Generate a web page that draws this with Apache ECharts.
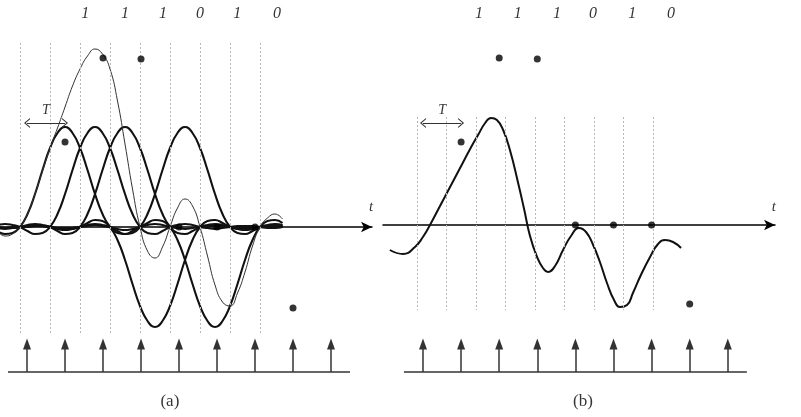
<!DOCTYPE html>
<html><head><meta charset="utf-8">
<script src="https://cdn.jsdelivr.net/npm/echarts/dist/echarts.min.js"></script>
<style>html,body{margin:0;padding:0;background:#fff}#c{width:801px;height:417px}</style>
</head><body><div id="c"></div>
<script>
// ---- panel (a): time grid (units of T, dashed lines at integers) ----
const tGrid = [-0.75,-0.5,-0.25,0,0.25,0.5,0.75,1,1.25,1.5,1.75,2,2.25,2.5,2.75,3,3.25,3.5,3.75,4,4.25,4.5,4.75,5,5.25,5.5,5.75,6,6.25,6.5,6.75,7,7.25,7.5,7.75,8,8.25,8.5,8.75];
const pulse1 = [-0.04,-0.07,-0.06,0,0.13,0.33,0.57,0.79,0.94,1,0.94,0.79,0.57,0.33,0.13,0,-0.06,-0.07,-0.04,0,0.02,0.03,0.02,0,-0.01,-0.02,-0.01,0,0.01,0.01,0.01,0,-0.01,-0.01,0,0,0,0.01,0];
const pulse2 = [0.02,0.03,0.02,0,-0.04,-0.07,-0.06,0,0.13,0.33,0.57,0.79,0.94,1,0.94,0.79,0.57,0.33,0.13,0,-0.06,-0.07,-0.04,0,0.02,0.03,0.02,0,-0.01,-0.02,-0.01,0,0.01,0.01,0.01,0,-0.01,-0.01,0];
const pulse3 = [-0.01,-0.02,-0.01,0,0.02,0.03,0.02,0,-0.04,-0.07,-0.06,0,0.13,0.33,0.57,0.79,0.94,1,0.94,0.79,0.57,0.33,0.13,0,-0.06,-0.07,-0.04,0,0.02,0.03,0.02,0,-0.01,-0.02,-0.01,0,0.01,0.01,0.01];
const pulse4 = [-0.01,-0.01,-0.01,0,0.01,0.02,0.01,0,-0.02,-0.03,-0.02,0,0.04,0.07,0.06,0,-0.13,-0.33,-0.57,-0.79,-0.94,-1,-0.94,-0.79,-0.57,-0.33,-0.13,0,0.06,0.07,0.04,0,-0.02,-0.03,-0.02,0,0.01,0.02,0.01];
const pulse5 = [0,-0.01,-0.01,0,0.01,0.01,0.01,0,-0.01,-0.02,-0.01,0,0.02,0.03,0.02,0,-0.04,-0.07,-0.06,0,0.13,0.33,0.57,0.79,0.94,1,0.94,0.79,0.57,0.33,0.13,0,-0.06,-0.07,-0.04,0,0.02,0.03,0.02];
const pulse6 = [0,-0.01,0,0,0,0.01,0.01,0,-0.01,-0.01,-0.01,0,0.01,0.02,0.01,0,-0.02,-0.03,-0.02,0,0.04,0.07,0.06,0,-0.13,-0.33,-0.57,-0.79,-0.94,-1,-0.94,-0.79,-0.57,-0.33,-0.13,0,0.06,0.07,0.04];
const sumA = [-0.04,-0.09,-0.07,0,0.13,0.33,0.56,0.79,0.99,1.2,1.41,1.58,1.71,1.78,1.73,1.58,1.26,0.83,0.38,0,-0.24,-0.31,-0.2,0,0.19,0.28,0.21,0,-0.29,-0.58,-0.75,-0.79,-0.66,-0.45,-0.19,0,0.09,0.13,0.08];

// ---- panel (b): received curve ----
const bT = [-0.92,-0.47,-0.07,0.2,0.44,0.78,1.12,1.46,1.8,2.07,2.31,2.51,2.71,2.92,3.15,3.42,3.63,3.83,4.07,4.27,4.44,4.68,4.95,5.22,5.49,5.73,5.97,6.2,6.44,6.68,6.88,7.12,7.32,7.59,7.9,8.17,8.41,8.68,8.95];
const bV = [-0.25,-0.29,-0.22,-0.12,0,0.19,0.38,0.57,0.76,0.9,1.02,1.07,1.05,0.95,0.75,0.43,0.16,-0.11,-0.32,-0.43,-0.47,-0.41,-0.25,-0.11,-0.03,-0.07,-0.2,-0.37,-0.58,-0.75,-0.82,-0.8,-0.68,-0.5,-0.32,-0.19,-0.15,-0.17,-0.23];

// ---- samples / labels (sample-index axis) ----
const bits = ['1','1','1','0','1','0'];
const bitPosA = [1.53,2.58,3.58,4.55,5.53,6.58];
const bitPosB = [1.47,2.49,3.52,4.46,5.49,6.51];
const sampleK = [0,1,2,3,4,5,6,7,8];
const dotK = [1,2,3,4,5,6,7];
const dotA = [0.85,1.69,1.68,0,0,0,-0.81];
const dotB = [0.83,1.67,1.66,0,0,0,-0.79];
const gridLinesT = [0,1,2,3,4,5,6,7,8];

const SERIF = 'Liberation Serif';
const CHEV = 'path://M0,8 L6,0 L12,8 L10.4,8 L6,2.2 L1.6,8 Z';

function panel(p) {
  const s = [];
  s.push({type:'line', xAxisIndex:p.xt, yAxisIndex:p.y, data:[], silent:true, z:1,
    markLine:{silent:true, animation:false, symbol:['none','none'], label:{show:false},
      lineStyle:{color:'#b8b8b8', width:1, type:[2,2]},
      data: gridLinesT.map(t => [{coord:[t, p.gTop]}, {coord:[t, p.gBot]}])}});
  p.curves.forEach(c => s.push({type:'line', xAxisIndex:p.xt, yAxisIndex:p.y,
    data: c.t.map((t,i)=>[t, c.v[i]]), smooth:c.sm, symbol:'none', silent:true, z:c.z||3,
    lineStyle:{width:c.w, color:c.color}}));
  s.push({type:'scatter', xAxisIndex:p.xs, yAxisIndex:p.y, symbolSize:7, silent:true, z:6,
    itemStyle:{color:'#000'},
    data: dotK.map((k,i)=>[k, p.dots[i]]),
    markLine:{silent:true, animation:false, symbol:['none','none'], label:{show:false},
      lineStyle:{color:'#333', width:1.5, type:'solid'},
      data: [
        ...sampleK.map(k => [{coord:[k, p.base]}, {coord:[k, p.head], symbol:'triangle', symbolSize:[8,11]}]),
        [{coord:[-0.5, p.base]}, {coord:[8.5, p.base]}],
        [{coord:[0, p.tArr], symbol:CHEV, symbolSize:[10,6], lineStyle:{width:1, color:'#333'}},
         {coord:[1, p.tArr], symbol:CHEV, symbolSize:[10,6]}]
      ]}});
  const txt = [];
  bits.forEach((b,i)=>txt.push({value:[p.bitPos[i], p.bitV], name:b, label:{fontSize:16, fontStyle:'italic'}}));
  txt.push({value:[0.5, p.tLabV], name:'T', label:{fontSize:14, fontStyle:'italic'}});
  txt.push({value:[p.capK, p.capV], name:p.cap, label:{fontSize:17, fontStyle:'normal'}});
  s.push({type:'scatter', xAxisIndex:p.xs, yAxisIndex:p.y, symbolSize:1, silent:true, clip:false, z:7,
    itemStyle:{color:'rgba(0,0,0,0)'}, data:txt,
    label:{show:true, position:'inside', formatter:'{b}', color:'#000', fontFamily:SERIF}});
  s.push({type:'scatter', xAxisIndex:p.xt, yAxisIndex:p.y, symbolSize:1, silent:true, clip:false, z:7,
    itemStyle:{color:'rgba(0,0,0,0)'}, data:[{value:[p.axT, p.axV], name:'t'}],
    label:{show:true, position:'inside', formatter:'{b}', color:'#000', fontFamily:SERIF, fontSize:15, fontStyle:'italic'}});
  return s;
}

const seriesA = panel({xt:0, xs:1, y:0, gTop:1.84, gBot:-1.08,
  curves:[pulse1,pulse2,pulse3,pulse4,pulse5,pulse6].map(v=>({t:tGrid, v, w:2.1, color:'#111', sm:true}))
    .concat([{t:tGrid, v:sumA, w:1, color:'#333', z:4, sm:true}]),
  dots:dotA, base:-1.45, head:-1.17, tArr:1.04, tLabV:1.17,
  bitPos:bitPosA, bitV:2.13, cap:'(a)', capK:3.76, capV:-1.75, axT:11.7, axV:0.2});
const seriesB = panel({xt:2, xs:3, y:1, gTop:1.08, gBot:-0.85,
  curves:[{t:bT, v:bV, w:2, color:'#111', sm:0.5}],
  dots:dotB, base:-1.47, head:-1.19, tArr:1.02, tLabV:1.15,
  bitPos:bitPosB, bitV:2.11, cap:'(b)', capK:4.2, capV:-1.77, axT:12.1, axV:0.18});

const hidden = {axisTick:{show:false}, axisLabel:{show:false}, splitLine:{show:false}};
const tAxisLine = {onZero:true, symbol:['none','arrow'], symbolSize:[8,11], lineStyle:{color:'#000', width:1.5}};

const chart = echarts.init(document.getElementById('c'), null, {renderer:'canvas'});
chart.setOption({
  animation:false,
  backgroundColor:'#fff',
  grid:[{left:0, top:0, width:372, height:417}, {left:383, top:0, width:392, height:417}],
  xAxis:[
    Object.assign({gridIndex:0, type:'value', min:-0.667, max:11.733, axisLine:tAxisLine}, hidden),
    Object.assign({gridIndex:0, type:'value', min:-0.711, max:9.079, show:false}, hidden),
    Object.assign({gridIndex:1, type:'value', min:-1.153, max:12.136, axisLine:tAxisLine}, hidden),
    Object.assign({gridIndex:1, type:'value', min:-1.05, max:9.239, show:false}, hidden)
  ],
  yAxis:[
    Object.assign({gridIndex:0, type:'value', min:-1.9, max:2.27, show:false}, hidden),
    Object.assign({gridIndex:1, type:'value', min:-1.92, max:2.25, show:false}, hidden)
  ],
  series: seriesA.concat(seriesB)
});
</script></body></html>
